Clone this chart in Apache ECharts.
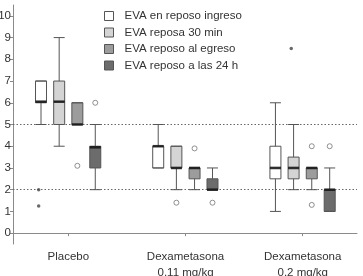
<!DOCTYPE html>
<html>
<head>
<meta charset="utf-8">
<script src="https://cdn.jsdelivr.net/npm/echarts@6/dist/echarts.min.js"></script>
<style>
  html, body { margin: 0; padding: 0; background: #fff; }
  #chart { width: 363px; height: 276px; }
</style>
</head>
<body>
<div id="chart"></div>
<script>
// grupos del eje x
var categories = ['Placebo', 'Dexametasona\n0.11 mg/kg', 'Dexametasona\n0.2 mg/kg'];
var seriesNames = ['EVA en reposo ingreso', 'EVA reposa 30 min', 'EVA reposo al egreso', 'EVA reposo a las 24 h'];
var yTicks = [0, 1, 2, 3, 4, 5, 6, 7, 8, 9, 10];

// [min, Q1, mediana, Q3, max] por grupo
var ingreso = [[5, 6, 6.05, 7, 7], [3, 3, 4, 4, 5], [1, 2.5, 3, 4, 6]];
var reposo30 = [[4, 5, 6.05, 7, 9], [2, 3, 3, 4, 4], [2, 2.5, 3, 3.5, 5]];
var egreso = [[5, 5, 5, 6, 6], [2, 2.5, 3, 3, 3], [2, 2.5, 3, 3, 3]];
var horas24 = [[2, 3, 3.95, 4, 5], [2, 2, 2, 2.5, 3], [1, 1, 2, 2, 3]];

// valores atipicos (o) y extremos (*): [grupo, valor]
var outIngreso = [];
var outReposo30 = [[1, 1.4]];
var outEgreso = [[0, 3.1], [1, 3.9], [2, 4], [2, 1.3]];
var outHoras24 = [[0, 6], [1, 1.4], [2, 4]];
var extIngreso = [[0, 2], [0, 1.25]];
var extReposo30 = [[2, 8.5]];
var extEgreso = [];
var extHoras24 = [];

// lineas de referencia punteadas
var refLines = [5, 2];

var boxes = [ingreso, reposo30, egreso, horas24];
var outliers = [outIngreso, outReposo30, outEgreso, outHoras24];
var extremes = [extIngreso, extReposo30, extEgreso, extHoras24];

var fills = ['#ffffff', '#d4d4d4', '#9c9c9c', '#6c6c6c'];
var xOffsets = [-0.233, -0.078, 0.077, 0.23];
var X_MIN = 0.528, X_MAX = 3.463;
var FONT = 'Liberation Sans, Arial, sans-serif';

var chart = echarts.init(document.getElementById('chart'));

var xAxes = [];
for (var a = 0; a < 4; a++) {
    var ax = { type: 'value', gridIndex: 0, min: X_MIN, max: X_MAX, show: a === 0 };
    if (a === 0) {
        ax.axisLine = { lineStyle: { color: '#8a8a8a', width: 1 } };
        ax.axisTick = { show: true, length: 3, customValues: [1, 2, 3], lineStyle: { color: '#8a8a8a' } };
        ax.splitLine = { show: false };
        ax.axisLabel = {
            customValues: [1, 2, 3],
            formatter: function (v) { return categories[Math.round(v) - 1]; },
            fontSize: 11.5, lineHeight: 15.5, color: '#333', margin: 5.5, fontFamily: FONT
        };
    }
    xAxes.push(ax);
}

var series = [];
boxes.forEach(function (data, i) {
    series.push({
        name: seriesNames[i],
        type: 'boxplot',
        layout: 'horizontal',
        xAxisIndex: i,
        boxWidth: [11, 11],
        itemStyle: { color: fills[i], borderColor: '#555', borderWidth: 1 },
        data: data.map(function (d, g) { return [g + 1 + xOffsets[i]].concat(d); }),
        z: 3,
        markLine: i === 0 ? {
            silent: true, symbol: 'none', label: { show: false },
            lineStyle: { type: [1.5, 2], color: '#666', width: 1 },
            data: refLines.map(function (v) { return { yAxis: v }; }),
            z: 1
        } : undefined
    });
    // mediana gruesa
    series.push({
        type: 'scatter',
        xAxisIndex: 0,
        symbol: 'rect',
        symbolSize: [11, 2.6],
        itemStyle: { color: '#111' },
        silent: true,
        z: 5,
        data: data.map(function (d, g) { return [g + 1 + xOffsets[i], d[2]]; })
    });
    series.push({
        type: 'scatter',
        xAxisIndex: 0,
        symbol: 'circle',
        symbolSize: 5,
        itemStyle: { color: '#fff', borderColor: '#666', borderWidth: 0.9 },
        silent: true,
        z: 5,
        data: outliers[i].map(function (o) { return [o[0] + 1 + xOffsets[i], o[1]]; })
    });
    series.push({
        type: 'scatter',
        xAxisIndex: 0,
        symbol: 'circle',
        symbolSize: 3.5,
        itemStyle: { color: '#444' },
        silent: true,
        z: 5,
        data: extremes[i].map(function (o) { return [o[0] + 1 + xOffsets[i] - 0.02, o[1]]; })
    });
});

var option = {
    animation: false,
    backgroundColor: '#fff',
    grid: { left: 13, right: 6, top: 5, bottom: 32, outerBoundsMode: 'none' },
    legend: {
        data: seriesNames.map(function (n, i) {
            return { name: n, itemStyle: { color: fills[i], borderColor: '#555', borderWidth: 1 } };
        }),
        orient: 'vertical',
        left: 99,
        top: 5,
        icon: 'rect',
        itemWidth: 9,
        itemHeight: 9,
        itemGap: 4.5,
        textStyle: { fontSize: 11.5, lineHeight: 12, color: '#333', fontFamily: FONT, padding: [0, 0, 0, 6] }
    },
    xAxis: xAxes,
    yAxis: {
        type: 'value',
        min: -0.5,
        max: 10.5,
        axisLine: { show: true, lineStyle: { color: '#8a8a8a', width: 1 } },
        axisTick: { show: true, length: 3, customValues: yTicks, lineStyle: { color: '#8a8a8a' } },
        splitLine: { show: false },
        axisLabel: { customValues: yTicks, fontSize: 11.5, color: '#333', margin: 2, fontFamily: FONT }
    },
    series: series
};

chart.setOption(option);
</script>
</body>
</html>
